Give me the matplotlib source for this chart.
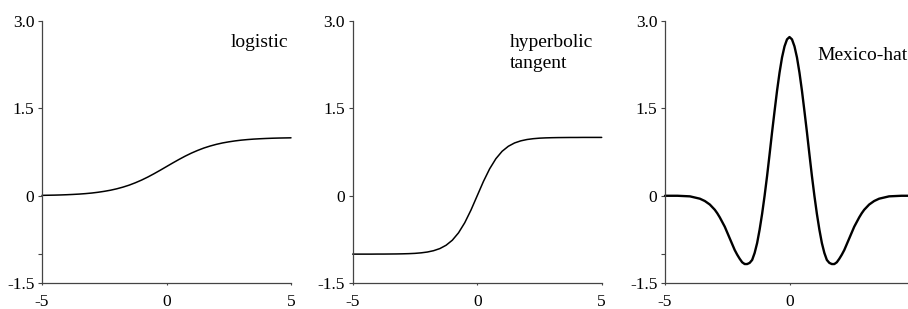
import os
import matplotlib
matplotlib.use("Agg")
import matplotlib.pyplot as plt
from matplotlib import font_manager
from matplotlib.ticker import FixedLocator

# look for a Times-like serif face on disk
serif = None
keys = ['liberationserif-regular', 'liberationserif', 'times', 'nimbusroman', 'nimbusrom', 'tinos',
        'texgyretermes', 'freeserif']
files = font_manager.findSystemFonts()
for k in keys:
    for f in files:
        b = os.path.basename(f).lower().replace(' ', '')
        if k in b and 'bold' not in b and 'italic' not in b:
            try:
                font_manager.fontManager.addfont(f)
                serif = font_manager.FontProperties(fname=f).get_name()
            except Exception:
                serif = None
            if serif:
                break
    if serif:
        break

names = {f.name for f in font_manager.fontManager.ttflist}
if serif:
    fam = [serif, 'DejaVu Serif']
    tick_fs, lab_fs = 12.5, 14
elif 'DejaVu Serif Condensed' in names:
    fam = ['DejaVu Serif Condensed', 'DejaVu Serif']
    tick_fs, lab_fs = 11.5, 13
else:
    fam = ['DejaVu Serif']
    tick_fs, lab_fs = 10.5, 12
plt.rcParams['font.family'] = fam

# ---- data ----
x_sig = [-5.0, -4.75, -4.5, -4.25, -4.0, -3.75, -3.5, -3.25, -3.0, -2.75, -2.5, -2.25, -2.0,
         -1.75, -1.5, -1.25, -1.0, -0.75, -0.5, -0.25, 0.0, 0.25, 0.5, 0.75, 1.0, 1.25, 1.5,
         1.75, 2.0, 2.25, 2.5, 2.75, 3.0, 3.25, 3.5, 3.75, 4.0, 4.25, 4.5, 4.75, 5.0]
y_logistic = [0.007, 0.009, 0.011, 0.014, 0.018, 0.023, 0.029, 0.037, 0.047, 0.060, 0.076,
              0.095, 0.119, 0.148, 0.182, 0.223, 0.269, 0.321, 0.378, 0.438, 0.500, 0.562,
              0.622, 0.679, 0.731, 0.777, 0.818, 0.852, 0.881, 0.905, 0.924, 0.940, 0.953,
              0.963, 0.971, 0.977, 0.982, 0.986, 0.989, 0.991, 0.993]
y_tanh = [-1.000, -1.000, -1.000, -1.000, -0.999, -0.999, -0.998, -0.997, -0.995, -0.992,
          -0.987, -0.978, -0.964, -0.941, -0.905, -0.848, -0.762, -0.635, -0.462, -0.245,
          0.000, 0.245, 0.462, 0.635, 0.762, 0.848, 0.905, 0.941, 0.964, 0.978, 0.987,
          0.992, 0.995, 0.997, 0.998, 0.999, 0.999, 1.000, 1.000, 1.000, 1.000]

x_hat = [-5.0, -4.5, -4.0, -3.8, -3.6, -3.4, -3.2, -3.0, -2.9, -2.8, -2.7, -2.6, -2.5, -2.4,
         -2.3, -2.2, -2.1, -2.0, -1.9, -1.8, -1.7, -1.6, -1.5, -1.4, -1.3, -1.2, -1.1, -1.0,
         -0.9, -0.8, -0.7, -0.6, -0.5, -0.4, -0.3, -0.2, -0.1, 0.0, 0.1, 0.2, 0.3, 0.4, 0.5,
         0.6, 0.7, 0.8, 0.9, 1.0, 1.1, 1.2, 1.3, 1.4, 1.5, 1.6, 1.7, 1.8, 1.9, 2.0, 2.1, 2.2,
         2.3, 2.4, 2.5, 2.6, 2.7, 2.8, 2.9, 3.0, 3.2, 3.4, 3.6, 3.8, 4.0, 4.5, 5.0]
y_hat = [0.0, 0.0, -0.01, -0.03, -0.05, -0.09, -0.15, -0.24, -0.30, -0.37, -0.45, -0.53,
         -0.63, -0.73, -0.83, -0.93, -1.01, -1.08, -1.14, -1.17, -1.17, -1.15, -1.10, -0.98,
         -0.81, -0.58, -0.31, 0.0, 0.34, 0.71, 1.09, 1.45, 1.80, 2.11, 2.37, 2.56, 2.68, 2.72,
         2.68, 2.56, 2.37, 2.11, 1.80, 1.45, 1.09, 0.71, 0.34, 0.0, -0.31, -0.58, -0.81, -0.98,
         -1.10, -1.15, -1.17, -1.17, -1.14, -1.08, -1.01, -0.93, -0.83, -0.73, -0.63, -0.53,
         -0.45, -0.37, -0.30, -0.24, -0.15, -0.09, -0.05, -0.03, -0.01, 0.0, 0.0]

yticks = [-1.5, 0, 1.5, 3.0]
ytick_labels = ['-1.5', '0', '1.5', '3.0']
xticks = [-5, 0, 5]
xtick_labels = ['-5', '0', '5']
xtick_labels_cut = ['-5', '0', '']   # right end of third panel lies past the picture edge

W, H = 908, 309
fig = plt.figure(figsize=(W / 100, H / 100), dpi=100)

ax_w = 249 / W
ax_h = 262.6 / H
bottom = 1 - 283.3 / H
lefts = [42 / W, 352.7 / W, 665 / W]

panels = [
    (x_sig, y_logistic, 'logistic', 4.9, 2.62, 'right', 1.1, True, xtick_labels),
    (x_sig, y_tanh, 'hyperbolic\ntangent', 1.32, 2.44, 'left', 1.1, False, xtick_labels),
    (x_hat, y_hat, 'Mexico-hat', 1.14, 2.41, 'left', 1.7, True, xtick_labels_cut),
]

spine_col = '#444444'
for left, (xs, ys, label, tx, ty, ha, lw, minor_m1, xl) in zip(lefts, panels):
    ax = fig.add_axes([left, bottom, ax_w, ax_h])
    ax.plot(xs, ys, color='black', lw=lw, solid_capstyle='round', clip_on=False)
    ax.set_xlim(-5, 5)
    ax.set_ylim(-1.5, 3.0)
    ax.set_yticks(yticks)
    ax.set_yticklabels(ytick_labels)
    ax.set_xticks(xticks)
    ax.set_xticklabels(xl)
    if minor_m1:
        ax.yaxis.set_minor_locator(FixedLocator([-1.0]))
        ax.tick_params(axis='y', which='minor', length=3, width=0.8, color=spine_col)
    for s in ['top', 'right']:
        ax.spines[s].set_visible(False)
    for s in ['left', 'bottom']:
        ax.spines[s].set_color(spine_col)
        ax.spines[s].set_linewidth(0.9)
    ax.tick_params(axis='y', which='major', length=3, width=0.8, color=spine_col,
                   pad=2.5, labelsize=tick_fs)
    ax.tick_params(axis='x', which='major', length=1.5, width=0.8, color=spine_col,
                   pad=6, labelsize=tick_fs)
    ax.text(tx, ty, label, ha=ha, va='center', fontsize=lab_fs, linespacing=1.3)

fig.savefig('out.png', dpi=100)
